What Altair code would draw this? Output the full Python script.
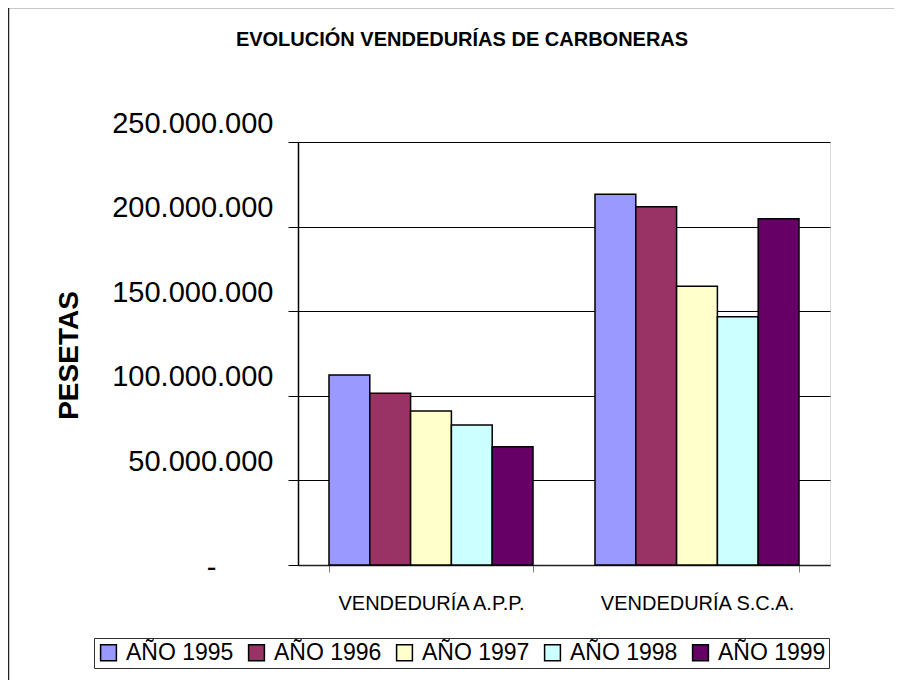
import altair as alt
import pandas as pd

categorias = ["VENDEDURÍA A.P.P.", "VENDEDURÍA S.C.A."]
anios = ["AÑO 1995", "AÑO 1996", "AÑO 1997", "AÑO 1998", "AÑO 1999"]
v1995 = [112300000, 219100000]
v1996 = [101500000, 211800000]
v1997 = [91000000, 164700000]
v1998 = [82700000, 146700000]
v1999 = [69900000, 204700000]
colores = ["#9999FF", "#993366", "#FFFFCC", "#CCFFFF", "#660066"]
y_ticks = [0, 50000000, 100000000, 150000000, 200000000, 250000000]

series = [v1995, v1996, v1997, v1998, v1999]
rows = []
for a, vals in zip(anios, series):
    for c, v in zip(categorias, vals):
        rows.append({"cat": c, "anio": a, "valor": v})
df = pd.DataFrame(rows)

FONT = "Liberation Sans"
ZERO = "datum.value == 0"

bars = alt.Chart(df).mark_bar(stroke="black", strokeWidth=1.5).encode(
    x=alt.X("cat:N", sort=categorias,
            scale=alt.Scale(paddingInner=0.233, paddingOuter=0.1165),
            axis=alt.Axis(title=None, labelAngle=0, labelFont=FONT, labelFontSize=20,
                          labelColor="black", labelPadding=21, labelBaseline="top",
                          labelLimit=400,
                          tickBand="extent", tickSize=7, tickColor="#808080",
                          domainColor="#222", domainWidth=1.5, grid=False)),
    xOffset=alt.XOffset("anio:N", sort=anios, scale=alt.Scale(paddingInner=0, paddingOuter=0)),
    y=alt.Y("valor:Q", scale=alt.Scale(domain=[0, 250000000], nice=False),
            axis=alt.Axis(values=y_ticks, title="PESETAS", titleFont=FONT, titleFontSize=28,
                          titleFontWeight="bold", titleColor="black", titleAngle=270,
                          titleX=-229, titleY=213, titleAlign="center", titleBaseline="middle",
                          labelExpr="datum.value == 0 ? '-' : replace(format(datum.value, ','), regexp(',', 'g'), '.')",
                          labelFont=FONT, labelFontSize=29, labelColor="black",
                          labelBaseline="alphabetic",
                          labelAlign={"condition": {"test": ZERO, "value": "center"}, "value": "right"},
                          labelOffset={"condition": {"test": ZERO, "value": 11}, "value": -10},
                          labelPadding={"condition": {"test": ZERO, "value": 77}, "value": 15},
                          tickSize=10, tickColor="black",
                          domainColor="black", domainWidth=1.5,
                          grid=True, gridColor="black", gridWidth=1)),
    color=alt.Color("anio:N", sort=anios, scale=alt.Scale(domain=anios, range=colores),
                    legend=alt.Legend(title=None, orient="none", legendX=-204, legendY=496,
                                      direction="horizontal", columns=5,
                                      fillColor="white", strokeColor="#333", padding=3,
                                      labelFont=FONT, labelFontSize=23, labelColor="black",
                                      symbolType="square", symbolSize=250,
                                      symbolStrokeColor="black", symbolStrokeWidth=1.5,
                                      symbolOpacity=1, columnPadding=11, labelOffset=6,
                                      labelLimit=300)),
)

frame_top = alt.Chart(alt.Data(values=[{}])).mark_rule(stroke="#222", strokeWidth=1.5).encode(
    x=alt.value(-290), x2=alt.value(800), y=alt.value(-134.5)
)
frame_left = alt.Chart(alt.Data(values=[{}])).mark_rule(stroke="#222", strokeWidth=1.5).encode(
    x=alt.value(-289.5), y=alt.value(-135), y2=alt.value(700)
)

chart = alt.layer(frame_top, frame_left, bars).properties(
    width=532, height=423,
    autosize=alt.AutoSizeParams(type="none"),
    padding={"left": 290, "top": 134, "right": 64, "bottom": 115},
    title=alt.TitleParams("EVOLUCIÓN VENDEDURÍAS DE CARBONERAS", font=FONT, fontSize=20,
                          fontWeight="bold", color="black", anchor="middle", dx=-102,
                          baseline="middle", offset=-54),
).configure_view(stroke="#999", strokeWidth=2).configure(background="white")

chart.save("out.html", embed_options={"renderer": "svg", "actions": False})
